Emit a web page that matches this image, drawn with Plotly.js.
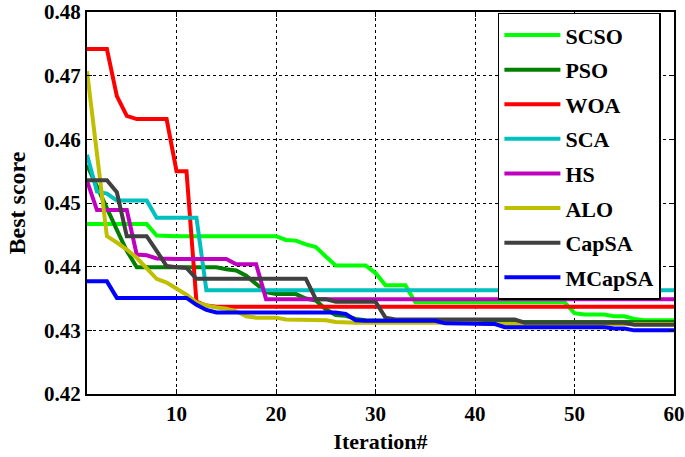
<!DOCTYPE html>
<html>
<head>
<meta charset="utf-8">
<script src="https://cdn.plot.ly/plotly-3.0.1.min.js"></script>
<style>
  html, body { margin: 0; padding: 0; background: #fff; }
  #chart { width: 685px; height: 457px; }
</style>
</head>
<body>
<div id="chart"></div>
<script>
// convergence curves, 60 iterations each
const iterations = Array.from({ length: 60 }, (_, i) => i + 1);
const xTicks = [10, 20, 30, 40, 50, 60];

const rep = (v, n) => Array(n).fill(v);

const scso = [
  ...rep(0.4467, 7), 0.4449, ...rep(0.4448, 12), 0.4442, 0.4441, 0.4435, 0.4431,
  0.4416, ...rep(0.4402, 4), 0.439, ...rep(0.4371, 3), ...rep(0.4344, 16),
  0.4327, ...rep(0.4325, 3), ...rep(0.4322, 2), 0.4318, ...rep(0.4316, 4),
];
const pso = [
  0.456, 0.4525, 0.4492, 0.4458, 0.4425, ...rep(0.4399, 9), 0.4396, 0.4394,
  0.4386, 0.4373, 0.436, ...rep(0.4357, 3), 0.435, 0.4347, 0.4333, 0.4324,
  0.4323, 0.4318, 0.4316, ...rep(0.4315, 11), ...rep(0.4313, 20),
];
const woa = [
  ...rep(0.4742, 3), 0.4668, 0.4637, ...rep(0.4632, 4), ...rep(0.455, 2),
  0.4345, 0.4339, ...rep(0.4337, 47),
];
const sca = [
  0.4576, 0.4518, 0.4515, ...rep(0.4504, 4), ...rep(0.4477, 5),
  ...rep(0.4363, 48),
];
const hs = [
  0.4535, ...rep(0.4489, 4), 0.4419, 0.4418, 0.4413, ...rep(0.4412, 7),
  ...rep(0.4404, 3), ...rep(0.4349, 42),
];
const alo = [
  0.4707, 0.4578, 0.4448, 0.4438, 0.4427, 0.4414, 0.4398, 0.4381, 0.4375,
  0.4366, 0.4356, 0.4344, 0.4339, 0.4336, 0.4334, 0.433, 0.4322,
  ...rep(0.432, 3), ...rep(0.4317, 2), ...rep(0.4316, 3), 0.4313,
  ...rep(0.4312, 14), ...rep(0.431, 20),
];
const capsa = [
  ...rep(0.4536, 3), 0.4517, ...rep(0.4448, 3), 0.4425, 0.4401, 0.4399,
  0.4398, ...rep(0.4381, 12), ...rep(0.4349, 2), ...rep(0.4345, 5), 0.432,
  ...rep(0.4317, 13), ...rep(0.4312, 11), ...rep(0.4309, 5),
];
const mcapsa = [
  ...rep(0.4377, 3), ...rep(0.4351, 8), 0.434, 0.4332, ...rep(0.4328, 13),
  0.4326, 0.4316, ...rep(0.4315, 8), ...rep(0.4311, 2), ...rep(0.431, 4),
  ...rep(0.4305, 11), ...rep(0.4303, 2), ...rep(0.43, 5),
];

const seriesNames = ["SCSO", "PSO", "WOA", "SCA", "HS", "ALO", "CapSA", "MCapSA"];
const seriesValues = [scso, pso, woa, sca, hs, alo, capsa, mcapsa];
const seriesColors = [
  "#00ff00", "#007f00", "#ff0000", "#00bfbf",
  "#bf00bf", "#bfbf00", "#404040", "#0000ff",
];

const fontFamily = "Liberation Serif";
const bold = (t) => "<b>" + t + "</b>";

const traces = seriesNames.map((name, i) => ({
  x: iterations,
  y: seriesValues[i],
  type: "scatter",
  mode: "lines",
  name: bold(name),
  legendgroup: name,
  line: { color: seriesColors[i], width: 4 },
}));

const axisStyle = {
  showline: true,
  linecolor: "black",
  linewidth: 2,
  mirror: "ticks",
  ticks: "inside",
  ticklen: 5,
  tickwidth: 1,
  tickcolor: "black",
  showgrid: true,
  gridcolor: "black",
  gridwidth: 1,
  griddash: "3px,3px",
  zeroline: false,
  ticklabeloverflow: "allow",
  tickfont: { family: fontFamily, size: 21, color: "black", weight: "bold" },
};

const layout = {
  width: 685,
  height: 457,
  margin: { l: 87, r: 11, t: 12, b: 63 },
  paper_bgcolor: "white",
  plot_bgcolor: "white",
  font: { family: fontFamily, color: "black" },
  showlegend: true,
  legend: {
    x: 0.7,
    y: 0.998,
    xanchor: "left",
    yanchor: "top",
    bgcolor: "white",
    bordercolor: "black",
    borderwidth: 1.5,
    tracegroupgap: 3,
    itemwidth: 56,
    font: { family: fontFamily, size: 22, color: "black" },
  },
  xaxis: {
    ...axisStyle,
    range: [1, 60.002],
    tickvals: xTicks,
    ticktext: xTicks.map((t) => bold(t)),
    title: {
      text: bold("Iteration#"),
      font: { family: fontFamily, size: 22, color: "black" },
      standoff: 8,
    },
  },
  yaxis: {
    ...axisStyle,
    range: [0.42, 0.48002],
    dtick: 0.01,
    tickformat: ".2f",
    tickprefix: "<b>",
    ticksuffix: "</b>",
    title: {
      text: bold("Best score"),
      font: { family: fontFamily, size: 24, color: "black" },
      standoff: 12,
    },
  },
};

Plotly.newPlot("chart", traces, layout, { displayModeBar: false, staticPlot: true });
</script>
</body>
</html>
